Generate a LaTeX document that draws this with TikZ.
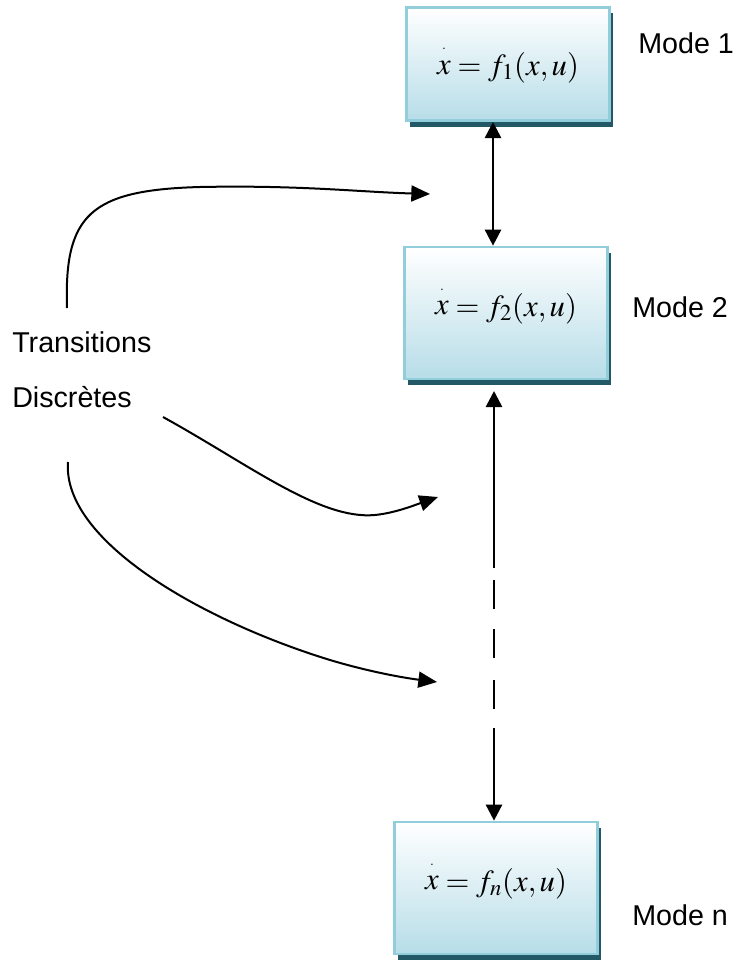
\documentclass[tikz,border=0pt]{standalone}
\usepackage{mathptmx}
\usepackage[no-math]{fontspec}
\setmainfont{Liberation Sans}
\usetikzlibrary{arrows.meta,shadows}
\definecolor{boxline}{RGB}{146,205,220}
\definecolor{boxfill}{RGB}{183,221,232}
\definecolor{boxshade}{RGB}{35,88,102}
\newcommand{\xdot}{{\stackrel{\raisebox{4pt}{\small.}}{x}}}
\tikzstyle{mode} = [draw=boxline,line width=2pt,top color=white,bottom color=boxfill,minimum width=152pt,minimum height=99pt,inner sep=0pt,drop shadow={shadow xshift=2.5pt,shadow yshift=-4.5pt,fill=boxshade,opacity=1},font=\fontsize{23}{27}\selectfont]
\tikzstyle{mlabel} = [anchor=base west,inner sep=0pt,font=\fontsize{21.5}{25}\selectfont]
\tikzstyle{link} = [line width=2pt,>={Triangle[length=12pt,width=12pt]}]
\tikzstyle{trans} = [line width=1.5pt,-{Triangle[length=14pt,width=12pt]}]

\begin{document}
\begin{tikzpicture}[x=0.75pt,y=-0.75pt]
\useasboundingbox (0,0) rectangle (732,960);

\node[mode,minimum height=85pt] (m1) at (508,64)  {$\xdot = f_1(x,u)$};
\node[mode,text depth=18pt]     (m2) at (506,313) {$\xdot = f_2(x,u)$};
\node[mode,text depth=18pt]     (mn) at (496,888) {$\xdot = f_n(x,u)$};

\node[mlabel] (l1) at (638,53)  {Mode 1};
\node[mlabel] (l2) at (632,317) {Mode 2};
\node[mlabel] (ln) at (632,925) {Mode n};
\node[mlabel] (tr) at (12,352)  {Transitions};
\node[mlabel] (di) at (12,407)  {Discrètes};

% liaisons entre modes
\coordinate (ax) at (493,0);
\coordinate (bx) at (494,0);
\coordinate (d1) at (494,568);
\coordinate (d2) at (494,728);
\draw[link,<->] (ax |- m1.south) -- (ax |- m2.north);
\draw[link,->,shorten >=8pt] (d1) -- (bx |- m2.south);
\draw[link,dash pattern=on 0pt off 9pt on 21.75pt off 15pt on 21.75pt off 16.5pt on 21.75pt off 50pt] (d1) -- (d2);
\draw[link,->] (d2) -- (bx |- mn.north);

% transitions discretes
\coordinate (s1) at (67,308);
\coordinate (t1) at (430,194);
\coordinate (s2) at (163,417);
\coordinate (t2) at (438,497);
\coordinate (s3) at (68,462);
\coordinate (t3) at (437,682);
\draw[trans] (s1) .. controls (64,215) and (90,190) .. (200,187) .. controls (300,185) and (360,192) .. (t1);
\draw[trans] (s2) .. controls (250,465) and (320,520) .. (375,515) .. controls (395,513) and (415,505) .. (t2);
\draw[trans] (s3) .. controls (62,540) and (200,620) .. (330,660) .. controls (370,672) and (405,678) .. (t3);
\end{tikzpicture}
\end{document}
